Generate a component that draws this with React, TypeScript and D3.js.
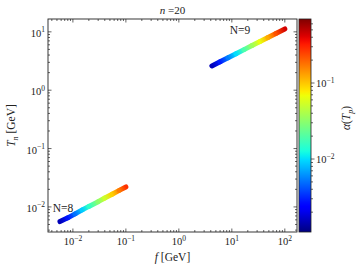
import React from 'react';
import * as d3 from 'd3';

// N=8 branch
const n8F = [0.0057, 0.008, 0.011, 0.015, 0.02, 0.03, 0.04, 0.055, 0.075, 0.1];
const n8T = [0.0056, 0.0065, 0.0076, 0.0089, 0.0102, 0.0123, 0.0142, 0.0165, 0.0192, 0.022];
const n8Alpha = [0.0015, 0.0028, 0.005, 0.0089, 0.015, 0.031, 0.052, 0.093, 0.165, 0.28];

// N=9 branch
const n9F = [4.2, 6, 8.5, 12, 17, 24, 34, 48, 68, 100];
const n9T = [2.6, 3.07, 3.6, 4.22, 4.96, 5.81, 6.82, 7.99, 9.38, 11.2];
const n9Alpha = [0.0015, 0.0029, 0.0054, 0.01, 0.0186, 0.035, 0.065, 0.12, 0.224, 0.437];

const xExps = [-2, -1, 0, 1, 2];
const yExps = [-2, -1, 0, 1];
const cExps = [-2, -1];

const W = 360, H = 270;
const m = { left: 48, right: 297, top: 19, bottom: 232 };
const cb = { left: 299, right: 311 };
const font = "'Liberation Serif', 'DejaVu Serif', serif";

// matplotlib jet
const jetR = [[0, 0], [0.35, 0], [0.66, 1], [0.89, 1], [1, 0.5]];
const jetG = [[0, 0], [0.125, 0], [0.375, 1], [0.64, 1], [0.91, 0], [1, 0]];
const jetB = [[0, 0.5], [0.11, 1], [0.34, 1], [0.65, 0], [1, 0]];
function seg(pts: number[][], t: number) {
  for (let i = 1; i < pts.length; i++) {
    if (t <= pts[i][0]) {
      const [x0, y0] = pts[i - 1], [x1, y1] = pts[i];
      return y0 + (y1 - y0) * (t - x0) / (x1 - x0);
    }
  }
  return pts[pts.length - 1][1];
}
function jet(t: number) {
  t = Math.max(0, Math.min(1, t));
  return d3.rgb(seg(jetR, t) * 255, seg(jetG, t) * 255, seg(jetB, t) * 255).formatHex();
}

const Sup = ({ exp }: { exp: number }) => (
  <>
    10<tspan dy={-4.5} fontSize={7.5}>{exp < 0 ? '\u2212' + Math.abs(exp) : exp}</tspan>
  </>
);

export default function App() {
  const x = d3.scaleLog().domain([Math.pow(10, -2.47), Math.pow(10, 2.23)]).range([m.left, m.right]);
  const y = d3.scaleLog().domain([Math.pow(10, -2.43), Math.pow(10, 1.22)]).range([m.bottom, m.top]);
  const c = d3.scaleLog().domain([Math.pow(10, -2.96), Math.pow(10, -0.158)]).range([0, 1]);
  const cy = d3.scaleLog().domain(c.domain()).range([m.bottom, m.top]);

  const isMajor = (v: number) => Math.abs(Math.log10(v) - Math.round(Math.log10(v))) < 1e-6;
  const xMinor = x.ticks().filter(v => !isMajor(v));
  const yMinor = y.ticks().filter(v => !isMajor(v));
  const cMinor = cy.ticks().filter(v => !isMajor(v));

  const series = [
    { f: n8F, t: n8T, a: n8Alpha, id: 'n8' },
    { f: n9F, t: n9T, a: n9Alpha, id: 'n9' },
  ];

  const cbStops = d3.range(0, 1.0001, 0.02);

  return (
    <svg width={W} height={H} style={{ position: 'absolute', left: 0, top: 0 }} fontFamily={font}>
      <defs>
        <linearGradient id="cbar" x1="0" y1="1" x2="0" y2="0">
          {cbStops.map(s => <stop key={s} offset={s} stopColor={jet(s)} />)}
        </linearGradient>
        {series.map(s => s.f.slice(1).map((_, i) => (
          <linearGradient key={s.id + i} id={s.id + 'g' + i} gradientUnits="userSpaceOnUse"
            x1={x(s.f[i])} y1={y(s.t[i])} x2={x(s.f[i + 1])} y2={y(s.t[i + 1])}>
            <stop offset="0" stopColor={jet(c(s.a[i]))} />
            <stop offset="1" stopColor={jet(c(s.a[i + 1]))} />
          </linearGradient>
        )))}
      </defs>

      {/* data */}
      {series.map(s => s.f.slice(1).map((_, i) => (
        <line key={s.id + 'l' + i} x1={x(s.f[i])} y1={y(s.t[i])} x2={x(s.f[i + 1])} y2={y(s.t[i + 1])}
          stroke={`url(#${s.id}g${i})`} strokeWidth={5} strokeLinecap="round" />
      )))}

      {/* ticks on all sides, pointing in */}
      <g stroke="#222" strokeWidth={0.7}>
        {xExps.map(e => {
          const px = x(Math.pow(10, e));
          return <g key={'xt' + e}>
            <line x1={px} x2={px} y1={m.bottom} y2={m.bottom - 3.5} />
            <line x1={px} x2={px} y1={m.top} y2={m.top + 3.5} />
          </g>;
        })}
        {xMinor.map((v, i) => (
          <g key={'xm' + i}>
            <line x1={x(v)} x2={x(v)} y1={m.bottom} y2={m.bottom - 2} />
            <line x1={x(v)} x2={x(v)} y1={m.top} y2={m.top + 2} />
          </g>
        ))}
        {yExps.map(e => {
          const py = y(Math.pow(10, e));
          return <g key={'yt' + e}>
            <line x1={m.left} x2={m.left + 3.5} y1={py} y2={py} />
            <line x1={m.right} x2={m.right - 3.5} y1={py} y2={py} />
          </g>;
        })}
        {yMinor.map((v, i) => (
          <g key={'ym' + i}>
            <line x1={m.left} x2={m.left + 2} y1={y(v)} y2={y(v)} />
            <line x1={m.right} x2={m.right - 2} y1={y(v)} y2={y(v)} />
          </g>
        ))}
      </g>
      <rect x={m.left} y={m.top} width={m.right - m.left} height={m.bottom - m.top}
        fill="none" stroke="#222" strokeWidth={0.9} />

      {/* tick labels */}
      <g fontSize={10.5} fill="#222">
        {xExps.map(e => (
          <text key={'xl' + e} x={x(Math.pow(10, e))} y={245} textAnchor="middle"><Sup exp={e} /></text>
        ))}
        {yExps.map(e => (
          <text key={'yl' + e} x={45} y={y(Math.pow(10, e)) + 5} textAnchor="end"><Sup exp={e} /></text>
        ))}
      </g>

      {/* axis labels */}
      <text x={(m.left + m.right) / 2} y={14} textAnchor="middle" fontSize={11} fill="#222">
        <tspan fontStyle="italic">n</tspan> =20
      </text>
      <text x={(m.left + m.right) / 2} y={261} textAnchor="middle" fontSize={11.5} fill="#222">
        <tspan fontStyle="italic">f</tspan> [GeV]
      </text>
      <text transform={`translate(15,${(m.top + m.bottom) / 2}) rotate(-90)`} textAnchor="middle" fontSize={11.5} fill="#222">
        <tspan fontStyle="italic">T</tspan><tspan fontStyle="italic" fontSize={8} dy={3}>n</tspan><tspan dy={-3}> [GeV]</tspan>
      </text>

      {/* annotations */}
      <text x={240} y={34} textAnchor="middle" fontSize={11.5} fill="#222">N=9</text>
      <text x={63} y={212} textAnchor="middle" fontSize={11.5} fill="#222">N=8</text>

      {/* colorbar */}
      <rect x={cb.left} y={m.top} width={cb.right - cb.left} height={m.bottom - m.top} fill="url(#cbar)" />
      <rect x={cb.left} y={m.top} width={cb.right - cb.left} height={m.bottom - m.top} fill="none" stroke="#222" strokeWidth={0.8} />
      <g stroke="#222" strokeWidth={0.7}>
        {cExps.map(e => <line key={'ct' + e} x1={cb.right} x2={cb.right + 3.5} y1={cy(Math.pow(10, e))} y2={cy(Math.pow(10, e))} />)}
        {cMinor.map((v, i) => <line key={'cm' + i} x1={cb.right} x2={cb.right + 2} y1={cy(v)} y2={cy(v)} />)}
      </g>
      <g fontSize={10.5} fill="#222">
        {cExps.map(e => (
          <text key={'cl' + e} x={cb.right + 5} y={cy(Math.pow(10, e)) + 4}><Sup exp={e} /></text>
        ))}
      </g>
      <text transform={`translate(350,118) rotate(-90)`} textAnchor="middle" fontSize={11.5} fill="#222">
        <tspan fontStyle="italic">α</tspan>(<tspan fontStyle="italic">T</tspan><tspan fontStyle="italic" fontSize={8} dy={3}>p</tspan><tspan dy={-3}>)</tspan>
      </text>
    </svg>
  );
}
